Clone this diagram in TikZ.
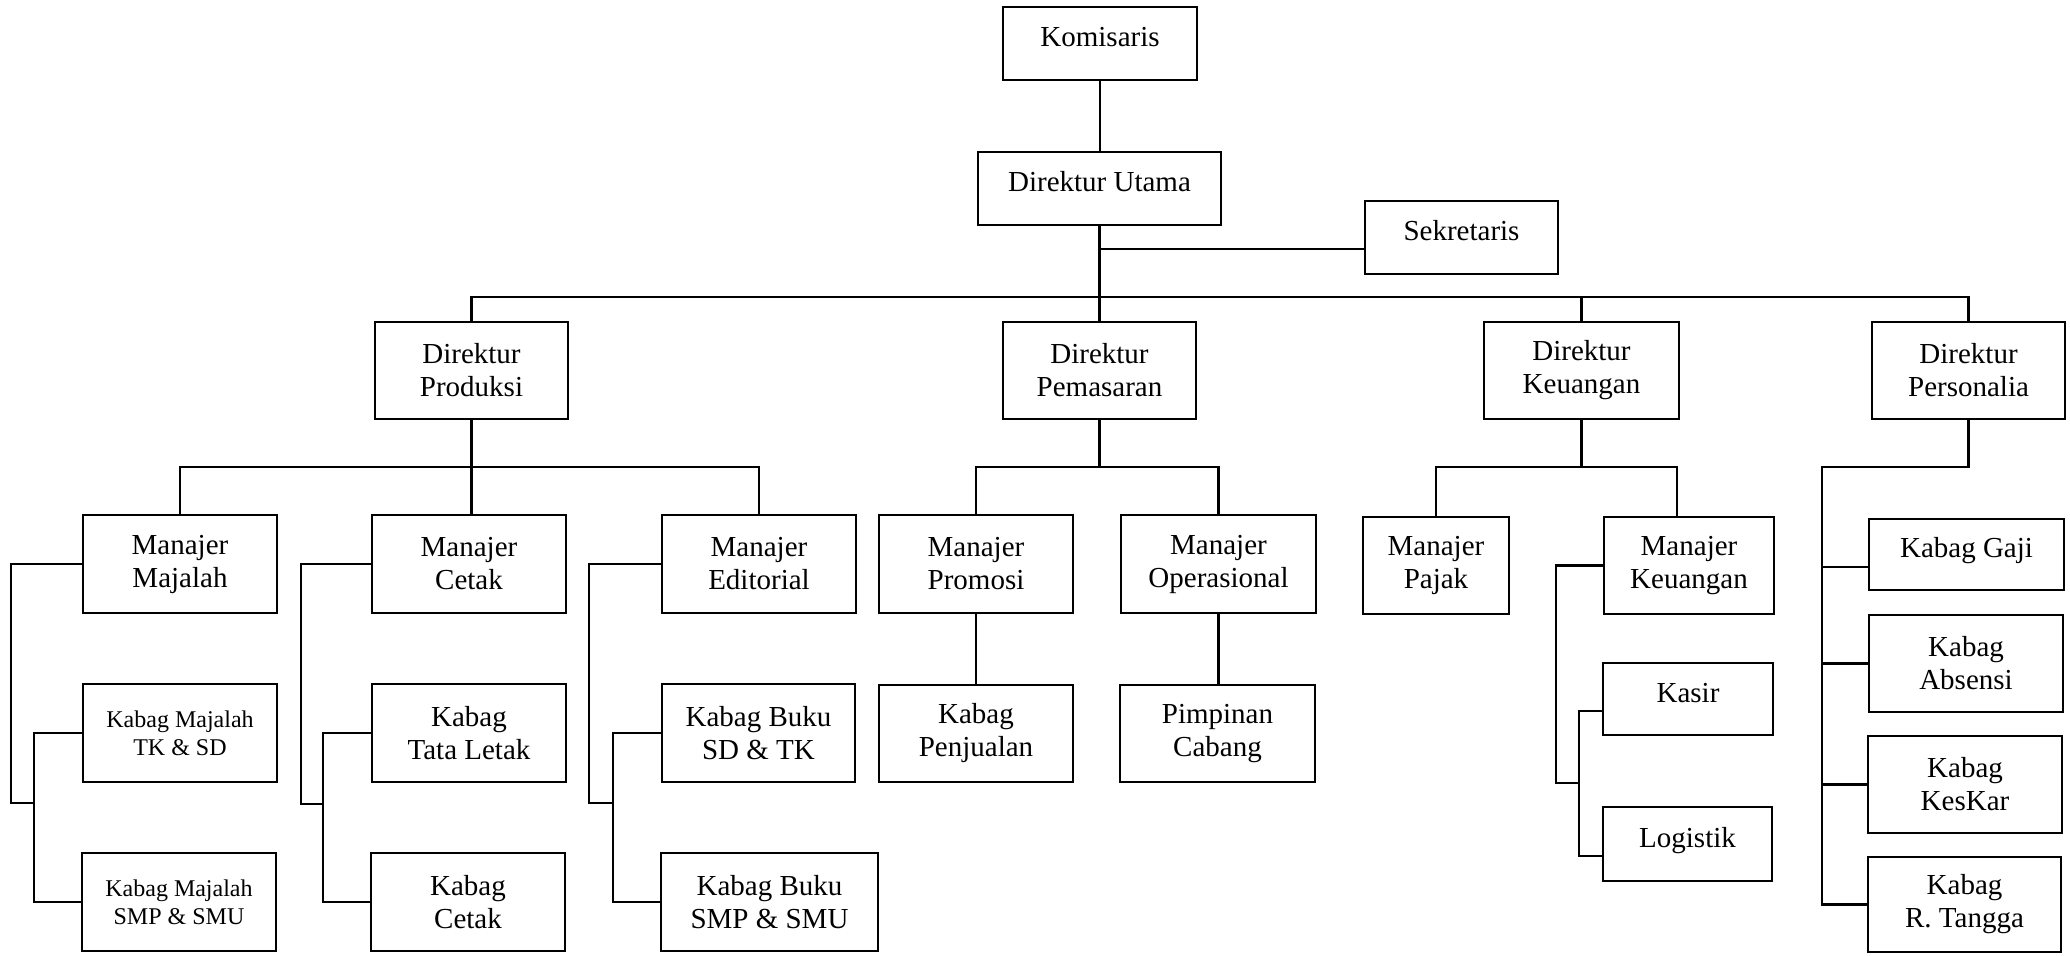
\documentclass[tikz,border=0pt]{standalone}
\usepackage{fontspec}
\setmainfont{Liberation Serif}
\usetikzlibrary{calc}
\begin{document}
\begin{tikzpicture}[x=0.5pt,y=-0.5pt,
  box/.style={draw, line width=1.3pt, inner sep=0pt, align=center, font=\fontsize{14.5}{16.5}\selectfont},
  smalltext/.style={font=\fontsize{12}{14}\selectfont},
  up/.style={text height=8pt, text depth=5pt},
  dirbox/.style={box, minimum width=96.5pt, minimum height=48.5pt},
  mgrbox/.style={box, minimum width=97pt, minimum height=49pt},
  link/.style={line width=1.3pt}]
\fill[white] (0,0) rectangle (2070,955);
\useasboundingbox (0,0) rectangle (2070,955);

% top
\node[box, minimum width=97pt, minimum height=36.5pt, up] (kom) at (1100,43.5) {Komisaris};
\node[box, minimum width=121.5pt, minimum height=36.5pt, up] (du) at (1099.5,188.5) {Direktur Utama};
\node[box, minimum width=96.5pt, minimum height=36.5pt, up] (sek) at (1461.5,237.5) {Sekretaris};

% directors
\node[dirbox] (dprod) at (471.5,370.5) {Direktur\\Produksi};
\node[dirbox] (dpem) at (1099.5,370.5) {Direktur\\Pemasaran};
\node[dirbox, minimum width=97.5pt] (dkeu) at (1581.5,370.5) {Direktur\\Keuangan};
\node[dirbox] (dpers) at (1968.5,370.5) {Direktur\\Personalia};

% managers
\node[mgrbox] (mmaj) at (180,564) {Manajer\\Majalah};
\node[mgrbox] (mcet) at (469,564) {Manajer\\Cetak};
\node[mgrbox] (medit) at (759,564) {Manajer\\Editorial};
\node[mgrbox] (mprom) at (976,564) {Manajer\\Promosi};
\node[mgrbox, minimum width=97.5pt] (mops) at (1218.5,564) {Manajer\\Operasional};
\node[mgrbox, minimum width=73pt, minimum height=48.5pt] (mpajak) at (1436,565.5) {Manajer\\Pajak};
\node[mgrbox, minimum width=85pt, minimum height=48.5pt] (mkeu) at (1689,565.5) {Manajer\\Keuangan};

% kabag
\node[mgrbox, smalltext] (kmaj1) at (180,733) {Kabag Majalah\\TK \& SD};
\node[mgrbox, smalltext] (kmaj2) at (179,902) {Kabag Majalah\\SMP \& SMU};
\node[mgrbox] (ktata) at (469,733) {Kabag\\Tata Letak};
\node[mgrbox] (kcet) at (468,902) {Kabag\\Cetak};
\node[mgrbox, minimum width=96.5pt] (kbuku1) at (758.5,733) {Kabag Buku\\SD \& TK};
\node[mgrbox, minimum width=108.5pt] (kbuku2) at (769.5,902) {Kabag Buku\\SMP \& SMU};
\node[mgrbox, minimum height=48.5pt] (kpenj) at (976,733.5) {Kabag\\Penjualan};
\node[mgrbox, minimum width=97.5pt, minimum height=48.5pt] (pcab) at (1217.5,733.5) {Pimpinan\\Cabang};
\node[box, minimum width=85pt, minimum height=36pt, up] (kasir) at (1688,699) {Kasir};
\node[box, minimum width=84.5pt, minimum height=37pt, up] (logistik) at (1687.5,844) {Logistik};
\node[box, minimum width=97.5pt, minimum height=35.5pt, up] (gaji) at (1966.5,554.5) {Kabag Gaji};
\node[mgrbox, minimum height=48.5pt] (absensi) at (1966,663.5) {Kabag\\Absensi};
\node[mgrbox, minimum height=48.5pt] (keskar) at (1965,784.5) {Kabag\\KesKar};
\node[mgrbox, minimum width=96.5pt, minimum height=47.5pt] (rtangga) at (1964.5,904.5) {Kabag\\R. Tangga};

% helper coordinates
\coordinate (busY) at (0,297);
\coordinate (subY) at (0,467);
\coordinate (sekY) at (0,249);
\coordinate (keuJ) at (1677,467);
\coordinate (persX) at (1822,0);
\coordinate (oMaj) at (11,0);  \coordinate (jMaj) at (34,803);
\coordinate (oCet) at (301,0); \coordinate (jCet) at (323,804);
\coordinate (oEd) at (589,0);  \coordinate (jEd) at (613,803);
\coordinate (oKeu) at (1556,0); \coordinate (jKeu) at (1579,783);
\coordinate (gajiC) at ([yshift=-6.25pt]gaji.west);
\coordinate (kasC) at ([yshift=-6pt]kasir.west);
\coordinate (logC) at ([yshift=-6pt]logistik.west);

% top connectors
\draw[link] (kom.south) -- (kom.south |- du.north);
\draw[link] (du.south) -- (du.south |- dpem.north);
\draw[link] (sek.west |- sekY) -- (du.south |- sekY);
\draw[link] (dprod.north) -- (dprod.north |- busY) -- (dpers.north |- busY) -- (dpers.north);
\draw[link] (dkeu.north) -- (dkeu.north |- busY);

% produksi
\draw[link] (dprod.south) -- (dprod.south |- mcet.north);
\draw[link] (mmaj.north) -- (mmaj.north |- subY) -- (medit.north |- subY) -- (medit.north);
\draw[link] (mmaj.west) -- (mmaj.west -| oMaj) -- (oMaj |- jMaj) -- (jMaj);
\draw[link] (kmaj1.west) -- (kmaj1.west -| jMaj) -- (kmaj2.west -| jMaj) -- (kmaj2.west);
\draw[link] (mcet.west) -- (mcet.west -| oCet) -- (oCet |- jCet) -- (jCet);
\draw[link] (ktata.west) -- (ktata.west -| jCet) -- (kcet.west -| jCet) -- (kcet.west);
\draw[link] (medit.west) -- (medit.west -| oEd) -- (oEd |- jEd) -- (jEd);
\draw[link] (kbuku1.west) -- (kbuku1.west -| jEd) -- (kbuku2.west -| jEd) -- (kbuku2.west);

% pemasaran
\draw[link] (dpem.south) -- (dpem.south |- subY);
\draw[link] (mprom.north) -- (mprom.north |- subY) -- (mops.north |- subY) -- (mops.north);
\draw[link] (mprom.south) -- (mprom.south |- kpenj.north);
\draw[link] (mops.south) -- (mops.south |- pcab.north);

% keuangan
\draw[link] (dkeu.south) -- (dkeu.south |- subY);
\draw[link] (mpajak.north) -- (mpajak.north |- subY) -- (keuJ) -- (keuJ |- mkeu.north);
\draw[link] (mkeu.west) -- (mkeu.west -| oKeu) -- (oKeu |- jKeu) -- (jKeu);
\draw[link] (kasC) -- (kasC -| jKeu) -- (logC -| jKeu) -- (logC);

% personalia
\draw[link] (dpers.south) -- (dpers.south |- subY) -- (persX |- subY) -- (persX |- rtangga.west) -- (rtangga.west);
\draw[link] (gajiC) -- (gajiC -| persX);
\draw[link] (absensi.west) -- (absensi.west -| persX);
\draw[link] (keskar.west) -- (keskar.west -| persX);
\end{tikzpicture}
\end{document}
